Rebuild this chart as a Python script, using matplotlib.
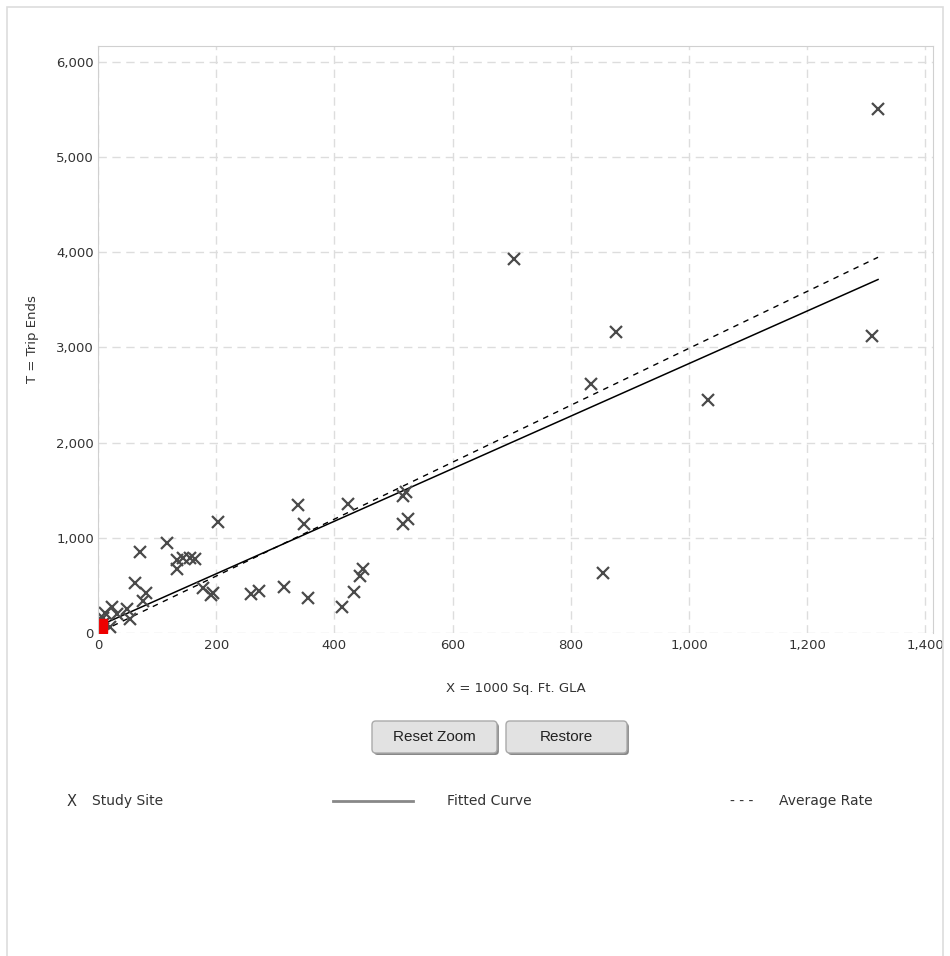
import numpy as np
import matplotlib
matplotlib.use('Agg')
import matplotlib.pyplot as plt
from matplotlib.lines import Line2D
from matplotlib.patches import FancyBboxPatch, Rectangle
from matplotlib.ticker import FuncFormatter

plt.rcParams['font.family'] = ['DejaVu Sans']
plt.rcParams['font.size'] = 9

# study sites (X = 1000 sq ft GLA, T = trip ends)
site_x = [1320, 1310, 1033, 877, 834, 855, 704, 522, 516, 516, 525, 423, 339, 349,
          449, 444, 433, 413, 356, 315, 272, 259, 203, 195, 191, 178, 117, 71,
          134, 134, 144, 156, 164, 63, 81, 76, 49, 54, 24, 12, 20, 8, 32, 10]
site_t = [5500, 3120, 2450, 3160, 2615, 630, 3930, 1480, 1440, 1140, 1200, 1350, 1340, 1140,
          670, 600, 430, 275, 370, 480, 440, 410, 1170, 420, 400, 470, 950, 850,
          770, 670, 790, 790, 780, 525, 420, 340, 250, 150, 270, 210, 60, 160, 200, 100]

# selected point (red)
sel_x = [4]
sel_t = [70]

fit_slope = 2.76
fit_icpt = 70
avg_rate = 2.99

x_ticks = [0, 200, 400, 600, 800, 1000, 1200, 1400]
y_ticks = [0, 1000, 2000, 3000, 4000, 5000, 6000]

W, H = 950, 956
fig = plt.figure(figsize=(9.5, 9.56), dpi=100)

# outer frame
fig.patches.append(Rectangle((7 / W, -0.01), 936 / W, 1 - 7 / H + 0.01,
                             transform=fig.transFigure, fill=False,
                             edgecolor='#dddddd', lw=1.2))

ax = fig.add_axes([98 / W, 1 - 633 / H, (933 - 98) / W, (633 - 46) / H])
ax.set_xlim(0, 1413)
ax.set_ylim(0, 6166)

ax.set_xticks(x_ticks)
ax.set_yticks(y_ticks)
fmt = FuncFormatter(lambda v, p: '{:,.0f}'.format(v))
ax.xaxis.set_major_formatter(fmt)
ax.yaxis.set_major_formatter(fmt)
ax.tick_params(length=0, labelcolor='#333333', labelsize=9.5)
ax.tick_params(axis='y', pad=3)
ax.tick_params(axis='x', pad=4)
ax.grid(True, color='#dddddd', ls=(0, (6, 4)), lw=1)
ax.set_axisbelow(True)
for s in ['left', 'top', 'right']:
    ax.spines[s].set_color('#d0d0d0')
ax.spines['bottom'].set_visible(False)

xs = np.array([min(site_x), max(site_x)])
ax.plot(xs, fit_slope * xs + fit_icpt, color='black', lw=1.1)
ax.plot(xs, avg_rate * xs, color='black', lw=1.0, ls=(0, (4, 4)))
ax.plot(site_x, site_t, ls='none', marker='x', markersize=9, mew=1.6, color='#4a4a4a')
ax.plot(sel_x, sel_t, ls='none', marker='s', markersize=10, color='#ee0000')

ax.set_xlabel('X = 1000 Sq. Ft. GLA', color='#333333', fontsize=9.5, labelpad=22)
ax.set_ylabel('T = Trip Ends', color='#333333', fontsize=9.5, labelpad=12)

# buttons
for x0, x1, label in [(372, 497, 'Reset Zoom'), (506, 627, 'Restore')]:
    fig.patches.append(FancyBboxPatch((x0 / W + 0.002, 1 - 755 / H), (x1 - x0) / W, 32 / H,
                                      boxstyle='round,pad=0,rounding_size=0.004',
                                      transform=fig.transFigure, facecolor='#888888',
                                      edgecolor='none'))
    fig.patches.append(FancyBboxPatch((x0 / W, 1 - 753 / H), (x1 - x0) / W, 32 / H,
                                      boxstyle='round,pad=0,rounding_size=0.004',
                                      transform=fig.transFigure, facecolor='#e2e2e2',
                                      edgecolor='#aaaaaa', lw=1))
    fig.text((x0 + x1) / 2 / W, 1 - 737 / H, label, ha='center', va='center',
             fontsize=11, color='#222222', family='Liberation Sans')

# legend
ly = 1 - 801 / H
fig.text(72 / W, ly, 'X', ha='center', va='center', fontsize=10.5, color='#333333')
fig.text(92 / W, ly, 'Study Site', ha='left', va='center', fontsize=10, color='#333333')
fig.lines.append(Line2D([333 / W, 413 / W], [ly, ly], transform=fig.transFigure,
                        color='#888888', lw=2))
fig.text(447 / W, ly, 'Fitted Curve', ha='left', va='center', fontsize=10, color='#333333')
fig.text(742 / W, ly, '- - -', ha='center', va='center', fontsize=10, color='#333333')
fig.text(779 / W, ly, 'Average Rate', ha='left', va='center', fontsize=10, color='#333333')

fig.savefig('out.png', dpi=100)
